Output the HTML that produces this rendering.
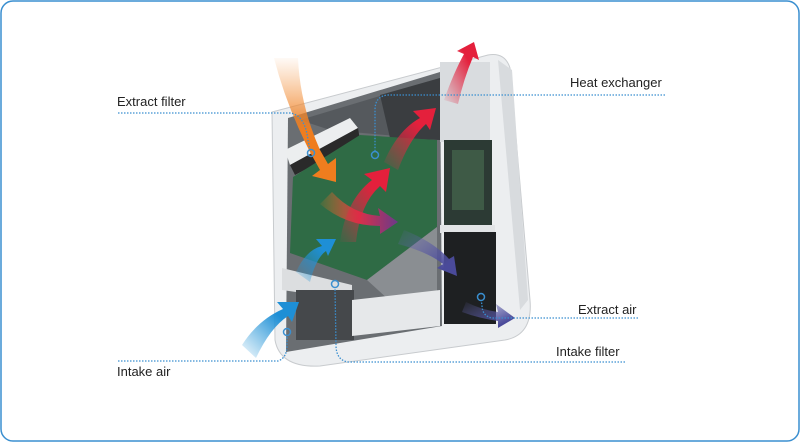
<!DOCTYPE html>
<html><head><meta charset="utf-8"><style>
html,body{margin:0;padding:0;background:#fff}
svg{display:block}
text{font-family:"Liberation Sans",sans-serif;font-size:13px;fill:#222}
</style></head><body>
<svg width="800" height="442" viewBox="0 0 800 442" xmlns="http://www.w3.org/2000/svg">
<defs>
<linearGradient id="or" x1="0" y1="0" x2="0" y2="1"><stop offset="0" stop-color="#f39a4a" stop-opacity="0.05"/><stop offset="0.6" stop-color="#ef7d1e"/><stop offset="1" stop-color="#ef7d1e"/></linearGradient>
<linearGradient id="red" x1="0" y1="1" x2="1" y2="0"><stop offset="0" stop-color="#e0304a" stop-opacity="0.05"/><stop offset="0.7" stop-color="#e4203c"/></linearGradient>
<linearGradient id="blue" x1="0" y1="1" x2="1" y2="0"><stop offset="0" stop-color="#2a9ad8" stop-opacity="0.05"/><stop offset="0.7" stop-color="#1e8fd6"/></linearGradient>
<linearGradient id="pur" x1="0" y1="0" x2="1" y2="1"><stop offset="0" stop-color="#6a6ab0" stop-opacity="0.05"/><stop offset="0.8" stop-color="#4a4a9a"/></linearGradient>
<linearGradient id="mix" x1="0" y1="0" x2="1" y2="0"><stop offset="0" stop-color="#ef7d1e" stop-opacity="0.1"/><stop offset="0.5" stop-color="#d8304a"/><stop offset="1" stop-color="#6a3a8a"/></linearGradient>
</defs>
<rect x="1" y="1" width="798" height="440" rx="12" fill="#fff" stroke="#3a8fd0" stroke-width="1.5"/>
<path d="M272 112 L488 55 Q505 52 510 68 L530 300 Q533 335 505 340 L320 366 Q280 368 275 340 Z" fill="#eceef0" stroke="#c8cbce"/>
<path d="M498 60 L512 70 L528 300 L520 310 Z" fill="#d8dbde"/>
<path d="M288 118 L440 72 L442 326 L286 352 Z" fill="#6a6e72"/>
<path d="M300 120 L440 78 L440 140 L330 130 Z" fill="#55595d"/>
<path d="M380 95 L440 78 L440 140 L390 138 Z" fill="#3a3d40"/>
<rect x="440" y="62" width="50" height="80" fill="#d9dcdf"/>
<rect x="444" y="140" width="48" height="85" fill="#2c3a34"/>
<rect x="452" y="150" width="32" height="60" fill="#3e5a46"/>
<rect x="440" y="225" width="55" height="8" fill="#e2e4e6"/>
<rect x="444" y="232" width="52" height="92" fill="#1e2022"/>
<path d="M285 150 L350 118 L358 128 L290 165 Z" fill="#eceeef"/>
<path d="M290 165 L358 128 L360 140 L295 175 Z" fill="#2a2a2a"/>
<path d="M282 268 L352 285 L352 300 L282 290 Z" fill="#dcdee0"/>
<rect x="296" y="290" width="58" height="50" fill="#45484b"/>
<path d="M293 177 L360 135 L437 140 L437 227 L367 280 L290 253 Z" fill="#2f6b45"/>
<path d="M367 280 L437 227 L437 300 L400 310 Z" fill="#8a8e92"/>
<path d="M352 300 L440 290 L440 326 L352 336 Z" fill="#e6e8ea"/>
<!-- arrows -->
<path d="M274 58 L298 58 Q300 105 320 150 L328 164 L336 158 L336 182 L312 176 L320 170 L310 152 Q286 105 274 58 Z" fill="url(#or)"/>
<path d="M332 192 Q352 214 380 216 L378 208 L398 222 L380 234 L380 226 Q346 226 320 204 Z" fill="url(#mix)"/>
<path d="M340 242 Q346 200 372 180 L364 174 L390 168 L386 192 L380 186 Q360 204 356 242 Z" fill="url(#red)"/>
<path d="M384 162 Q398 130 420 118 L413 111 L436 108 L430 130 L426 124 Q410 138 398 170 Z" fill="url(#red)"/>
<path d="M444 100 Q454 72 464 54 L457 51 L474 42 L479 60 L473 57 Q464 78 458 104 Z" fill="url(#red)"/>
<path d="M296 272 Q306 250 322 246 L316 239 L336 239 L328 256 L326 251 Q316 258 310 282 Z" fill="url(#blue)"/>
<path d="M242 345 Q258 320 283 309 L277 302 L299 302 L292 322 L288 316 Q270 328 256 358 Z" fill="url(#blue)"/>
<path d="M398 244 Q428 252 443 264 L437 268 L457 276 L454 256 L449 259 Q434 242 404 230 Z" fill="url(#pur)"/>
<path d="M466 302 Q482 310 498 312 L496 304 L515 318 L498 328 L498 321 Q478 318 462 312 Z" fill="url(#pur)"/>
<g fill="none" stroke="#3a8fd0" stroke-width="1.3" stroke-dasharray="1.5 1.5">
<path d="M118 113 L290 113 Q305 115 308 140 L310 150"/>
<path d="M665 95 L388 95 Q375 96 375 110 L375 152"/>
<path d="M638 318 L492 318 Q482 316 482 305 L481 300"/>
<path d="M625 362 L348 362 Q336 360 336 345 L335 288"/>
<path d="M118 361 L278 361 Q287 358 287 345 L287 336"/>
</g>
<g fill="none" stroke="#3a8fd0" stroke-width="1.5">
<circle cx="311" cy="153" r="3.5"/><circle cx="375" cy="155" r="3.5"/><circle cx="481" cy="297" r="3.5"/><circle cx="335" cy="284" r="3.5"/><circle cx="287" cy="332" r="3.5"/>
</g>
<text x="117" y="106">Extract filter</text>
<text x="570" y="87">Heat exchanger</text>
<text x="578" y="314">Extract air</text>
<text x="556" y="356">Intake filter</text>
<text x="117" y="376">Intake air</text>
</svg>
</body></html>
